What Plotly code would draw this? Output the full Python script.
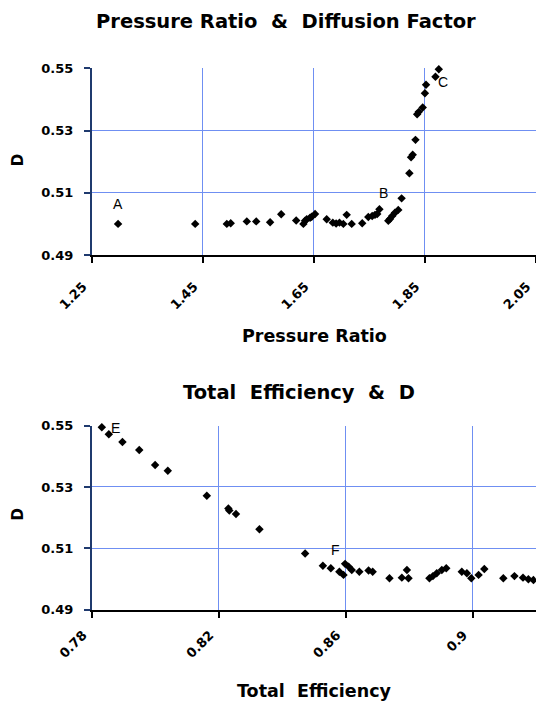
import plotly.graph_objects as go

# ---------------- data ----------------
pr_ratio = [1.297, 1.436, 1.493, 1.500, 1.529, 1.546, 1.571, 1.591, 1.618, 1.631,
            1.634, 1.637, 1.643, 1.646, 1.652, 1.673, 1.684, 1.690, 1.696, 1.703,
            1.709, 1.718, 1.737, 1.748, 1.755, 1.760, 1.764, 1.768, 1.784, 1.787,
            1.791, 1.796, 1.802, 1.808, 1.822, 1.825, 1.828, 1.833, 1.836, 1.839,
            1.846, 1.850, 1.852, 1.869, 1.875]
d_top = [0.5000, 0.5000, 0.5000, 0.5002, 0.5008, 0.5008, 0.5005, 0.5031, 0.5011, 0.5000,
         0.5010, 0.5015, 0.5020, 0.5023, 0.5032, 0.5015, 0.5004, 0.5001, 0.5004, 0.5000,
         0.5029, 0.5000, 0.5002, 0.5022, 0.5025, 0.5029, 0.5032, 0.5047, 0.5010, 0.5016,
         0.5025, 0.5036, 0.5045, 0.5082, 0.5163, 0.5214, 0.5222, 0.5270, 0.5352, 0.5360,
         0.5374, 0.5420, 0.5447, 0.5473, 0.5497]

total_eff = [0.7831, 0.7853, 0.7896, 0.7949, 0.7999, 0.8039, 0.8162, 0.8230, 0.8233, 0.8254,
             0.8328, 0.8472, 0.8528, 0.8553, 0.8580, 0.8593, 0.8598, 0.8609, 0.8619, 0.8643,
             0.8672, 0.8685, 0.8738, 0.8777, 0.8793, 0.8798, 0.8864, 0.8875, 0.8887, 0.8903,
             0.8917, 0.8966, 0.8982, 0.8996, 0.9019, 0.9037, 0.9097, 0.9132, 0.9159, 0.9176,
             0.9192]
d_bottom = [0.5495, 0.5472, 0.5447, 0.5421, 0.5372, 0.5353, 0.5271, 0.5230, 0.5223, 0.5212,
            0.5162, 0.5083, 0.5043, 0.5035, 0.5023, 0.5013, 0.5049, 0.5040, 0.5029, 0.5023,
            0.5027, 0.5023, 0.5002, 0.5004, 0.5029, 0.5002, 0.5002, 0.5009, 0.5018, 0.5029,
            0.5035, 0.5023, 0.5018, 0.5002, 0.5013, 0.5032, 0.5002, 0.5009, 0.5004, 0.4999,
            0.4996]

top_ticks_x = [1.25, 1.45, 1.65, 1.85, 2.05]
top_ticktext_x = ["1.25", "1.45", "1.65", "1.85", "2.05"]
bot_ticks_x = [0.78, 0.82, 0.86, 0.90]
bot_ticktext_x = ["0.78", "0.82", "0.86", "0.9"]
y_ticks = [0.49, 0.51, 0.53, 0.55]
y_ticktext = ["0.49", "0.51", "0.53", "0.55"]

top_point_labels = ["A", "B", "C"]
top_label_x = [1.297, 1.775, 1.883]
top_label_y = [0.5064, 0.5098, 0.5456]
bot_point_labels = ["E", "F"]
bot_label_x = [0.7873, 0.8569]
bot_label_y = [0.5492, 0.5095]

# ---------------- styling ----------------
W, H = 536, 702
FONT = "DejaVu Sans"
GRID = "#6F8FF2"
NAVY = "#1F3A6E"

fig = go.Figure()
fig.add_trace(go.Scatter(x=pr_ratio, y=d_top, mode="markers", xaxis="x", yaxis="y",
                         marker=dict(symbol="diamond", size=6.5, color="black"),
                         cliponaxis=False, showlegend=False))
fig.add_trace(go.Scatter(x=total_eff, y=d_bottom, mode="markers", xaxis="x2", yaxis="y2",
                         marker=dict(symbol="diamond", size=6.5, color="black"),
                         cliponaxis=False, showlegend=False))

def px_x(p):
    return p / W

def px_y(p):
    return 1 - p / H

xdom = [px_x(92), 1.0]
tickfont = dict(family=FONT, size=13, color="black", weight="bold")

xcommon = dict(showgrid=True, gridcolor=GRID, gridwidth=1.2, zeroline=False,
               showline=True, linecolor="black", linewidth=2, automargin=False,
               ticks="outside", ticklen=6, tickcolor="black", tickwidth=1.5,
               tickangle=-45, tickfont=tickfont, ticklabelshift=-9,
               ticklabeloverflow="allow")
ycommon = dict(showgrid=True, gridcolor=GRID, gridwidth=1.2, zeroline=False,
               showline=True, linecolor=NAVY, linewidth=2, automargin=False,
               ticks="outside", ticklen=6, tickcolor=NAVY, tickwidth=1.5,
               tickfont=tickfont, tickmode="array", tickvals=y_ticks, ticktext=y_ticktext,
               range=[0.49, 0.55], ticklabelstandoff=8, ticklabeloverflow="allow")

fig.update_layout(
    width=W, height=H,
    margin=dict(l=0, r=0, t=0, b=0),
    paper_bgcolor="white", plot_bgcolor="white",
    xaxis=dict(domain=xdom, anchor="y", range=[1.25, 2.0502], tickmode="array",
               tickvals=top_ticks_x, ticktext=top_ticktext_x, ticklabelstandoff=11,
               **xcommon),
    yaxis=dict(domain=[px_y(255), px_y(68.3)], anchor="x", **ycommon),
    xaxis2=dict(domain=xdom, anchor="y2", range=[0.78, 0.92], tickmode="array",
                tickvals=bot_ticks_x, ticktext=bot_ticktext_x, ticklabelstandoff=5,
                **xcommon),
    yaxis2=dict(domain=[px_y(609.5), px_y(425.7)], anchor="x2", **ycommon),
)

ann = []
def txt(x, y, s, size, angle=0, bold=True):
    ann.append(dict(x=x, y=y, xref="paper", yref="paper", text=s, showarrow=False,
                    xanchor="center", yanchor="middle", textangle=angle,
                    font=dict(family=FONT, size=size, color="black",
                              weight="bold" if bold else "normal")))

NB = "\u00a0"
txt(px_x(285.5), px_y(21), "Pressure Ratio " + NB + "&" + NB + " Diffusion Factor", 19.5)
txt(px_x(299), px_y(392), "Total" + NB + " Efficiency" + NB + " &" + NB + " D", 19.5)
txt(px_x(314.5), px_y(335.5), "Pressure Ratio", 17.5)
txt(px_x(314), px_y(690.6), "Total" + NB + " Efficiency", 17.5)
txt(px_x(17.5), px_y(160.7), "D", 15, angle=-90)
txt(px_x(17.5), px_y(515), "D", 15, angle=-90)

for s, x, y in zip(top_point_labels, top_label_x, top_label_y):
    ann.append(dict(x=x, y=y, xref="x", yref="y", text=s, showarrow=False,
                    xanchor="center", yanchor="middle",
                    font=dict(family="Liberation Sans", size=14, color="black")))
for s, x, y in zip(bot_point_labels, bot_label_x, bot_label_y):
    ann.append(dict(x=x, y=y, xref="x2", yref="y2", text=s, showarrow=False,
                    xanchor="center", yanchor="middle",
                    font=dict(family="Liberation Sans", size=14, color="black")))

fig.update_layout(annotations=ann)
fig.write_html("out.html")
